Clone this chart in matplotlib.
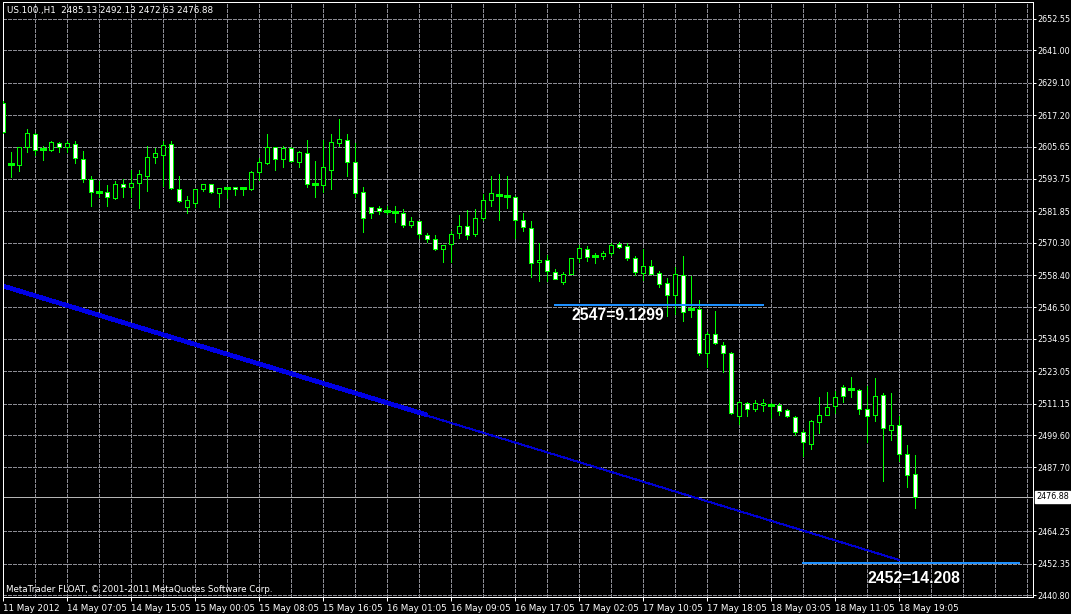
import matplotlib
matplotlib.use("Agg")
import matplotlib.pyplot as plt
from matplotlib.patches import Rectangle
from matplotlib.transforms import blended_transform_factory

# hourly bars of US.100 (H1), 11 May 2012 .. 18 May 2012 19:05
opens = [2621.67, 2598.88, 2598.88, 2605.49, 2610.27, 2604.76, 2604.39, 2606.96, 2605.49, 2606.60,
         2601.08, 2593.73, 2588.95, 2588.95, 2586.75, 2591.89, 2590.79, 2592.26, 2594.83, 2601.82,
         2602.55, 2606.60, 2590.05, 2583.44, 2584.91, 2590.05, 2591.89, 2588.58, 2590.25, 2590.79,
         2590.42, 2590.05, 2596.30, 2599.61, 2605.49, 2601.08, 2605.13, 2599.98, 2603.29, 2591.89,
         2591.52, 2597.04, 2606.96, 2608.07, 2599.98, 2588.95, 2583.44, 2583.07, 2581.97, 2581.60,
         2581.23, 2576.82, 2578.29, 2573.14, 2571.67, 2568.00, 2569.84, 2573.88, 2576.45, 2573.51,
         2579.39, 2586.01, 2587.85, 2587.48, 2587.11, 2578.66, 2575.72, 2563.22, 2563.95, 2559.54,
         2555.87, 2558.81, 2564.69, 2568.00, 2565.42, 2565.42, 2566.53, 2569.84, 2569.10, 2564.69,
         2559.18, 2561.75, 2559.18, 2555.50, 2551.09, 2558.44, 2545.94, 2545.94, 2529.77, 2536.75,
         2532.71, 2529.77, 2506.61, 2511.39, 2509.18, 2510.65, 2510.65, 2510.65, 2508.81, 2506.24,
         2500.73, 2496.32, 2504.40, 2506.98, 2510.28, 2517.27, 2516.53, 2516.17, 2509.18, 2506.98,
         2514.33, 2501.46, 2503.30, 2492.64, 2485.13]
highs = [2622.40, 2603.65, 2605.60, 2612.11, 2610.64, 2605.86, 2607.70, 2607.33, 2607.70, 2607.70,
         2604.02, 2594.83, 2592.99, 2591.52, 2592.99, 2593.73, 2597.04, 2597.04, 2605.86, 2605.13,
         2607.70, 2607.70, 2594.83, 2587.48, 2590.20, 2592.00, 2592.00, 2590.50, 2590.60, 2590.90,
         2590.50, 2596.67, 2601.45, 2610.27, 2605.60, 2605.86, 2605.49, 2604.02, 2608.07, 2600.35,
         2608.07, 2610.27, 2615.79, 2610.27, 2606.96, 2590.79, 2583.50, 2583.80, 2583.80, 2583.80,
         2582.70, 2579.76, 2578.40, 2573.88, 2573.14, 2569.60, 2574.61, 2580.50, 2582.33, 2582.70,
         2588.22, 2594.83, 2595.57, 2594.83, 2587.48, 2581.23, 2578.29, 2570.20, 2565.79, 2560.65,
         2559.54, 2564.80, 2569.47, 2569.10, 2566.53, 2567.26, 2570.20, 2570.57, 2570.20, 2565.42,
         2568.00, 2563.95, 2559.91, 2557.34, 2561.38, 2565.42, 2558.07, 2549.25, 2537.49, 2545.21,
         2533.81, 2530.13, 2512.12, 2511.75, 2512.49, 2512.86, 2511.39, 2511.39, 2509.18, 2506.61,
         2501.46, 2505.14, 2513.59, 2515.43, 2515.80, 2518.00, 2520.94, 2516.53, 2517.64, 2520.58,
         2515.06, 2515.06, 2506.61, 2495.95, 2492.13]
lows = [2610.64, 2594.46, 2596.67, 2603.65, 2602.55, 2600.71, 2604.02, 2603.65, 2603.65, 2599.61,
        2592.63, 2583.80, 2587.11, 2583.80, 2586.38, 2587.11, 2587.11, 2583.07, 2589.32, 2599.61,
        2591.16, 2590.05, 2585.27, 2581.23, 2583.44, 2589.32, 2588.58, 2583.44, 2586.75, 2587.85,
        2587.85, 2589.69, 2593.36, 2599.24, 2597.04, 2598.14, 2599.98, 2598.14, 2590.79, 2587.11,
        2588.95, 2590.05, 2605.86, 2594.83, 2587.11, 2574.25, 2579.39, 2580.86, 2580.86, 2577.92,
        2576.08, 2576.08, 2572.04, 2570.57, 2567.63, 2563.22, 2563.22, 2572.04, 2571.67, 2572.78,
        2578.66, 2583.80, 2578.66, 2583.07, 2572.04, 2574.61, 2557.70, 2556.23, 2556.23, 2556.90,
        2555.13, 2558.70, 2563.22, 2563.59, 2562.85, 2564.32, 2565.79, 2568.37, 2563.95, 2558.44,
        2556.60, 2558.70, 2554.03, 2543.37, 2544.10, 2541.53, 2543.00, 2529.03, 2524.62, 2533.08,
        2522.78, 2507.34, 2503.67, 2506.61, 2508.45, 2508.45, 2505.87, 2506.98, 2506.24, 2499.62,
        2491.90, 2494.48, 2500.36, 2506.90, 2507.71, 2511.75, 2513.59, 2507.34, 2497.05, 2504.77,
        2482.71, 2497.79, 2490.07, 2480.51, 2472.63]
closes = [2611.01, 2599.24, 2605.49, 2610.64, 2604.39, 2604.60, 2607.33, 2605.49, 2606.96, 2601.45,
          2593.73, 2588.95, 2589.10, 2587.11, 2591.89, 2590.79, 2592.26, 2595.57, 2601.82, 2603.29,
          2606.23, 2590.42, 2585.64, 2586.01, 2590.05, 2591.89, 2588.95, 2590.42, 2590.42, 2590.05,
          2590.25, 2596.30, 2599.98, 2605.49, 2601.08, 2605.13, 2600.35, 2603.65, 2591.89, 2591.95,
          2598.14, 2607.33, 2608.43, 2599.98, 2588.58, 2579.39, 2581.23, 2581.97, 2582.00, 2581.65,
          2576.82, 2578.29, 2573.51, 2571.67, 2568.00, 2569.47, 2573.51, 2576.45, 2573.14, 2579.39,
          2586.01, 2588.58, 2587.90, 2587.50, 2578.66, 2576.08, 2562.85, 2563.95, 2559.91, 2556.97,
          2558.81, 2564.69, 2568.37, 2565.06, 2565.45, 2566.53, 2569.47, 2568.73, 2564.69, 2559.54,
          2561.75, 2558.81, 2555.13, 2551.09, 2558.81, 2544.84, 2546.00, 2529.77, 2536.75, 2533.44,
          2529.77, 2507.71, 2511.75, 2509.18, 2511.39, 2511.39, 2510.60, 2508.45, 2506.61, 2500.73,
          2497.05, 2504.77, 2506.98, 2509.92, 2513.59, 2513.96, 2516.50, 2509.18, 2506.61, 2513.96,
          2502.20, 2503.30, 2492.64, 2484.92, 2476.88]

price_ticks = [2652.55, 2641.00, 2629.10, 2617.20, 2605.65, 2593.75, 2581.85, 2570.30, 2558.40,
               2546.50, 2534.95, 2523.05, 2511.15, 2499.60, 2487.70, 2464.25, 2452.35, 2440.80]
time_labels = ["11 May 2012", "14 May 07:05", "14 May 15:05", "15 May 00:05", "15 May 08:05",
               "15 May 16:05", "16 May 01:05", "16 May 09:05", "16 May 17:05", "17 May 02:05",
               "17 May 10:05", "17 May 18:05", "18 May 03:05", "18 May 11:05", "18 May 19:05"]
last_price = 2476.88

# trend line (bar index, price) and horizontal levels
trend_start = (0, 2554.4)
trend_end = (112, 2453.7)
trend_thick_end = (53, 2507.0)
levels = [2547.4, 2452.5]
level_spans = [(69, 95), (100, 127)]
level_texts = ["2547=9.1299", "2452=14.208"]

GREEN = "#00ff00"
GRID = "#8c8c94"
px = 100 / 72.0

fig = plt.figure(figsize=(10.71, 6.14), dpi=100, facecolor="black")
ax = fig.add_axes([2.5 / 1071, 1 - 597 / 614, 1030 / 1071, 595 / 614])
ax.set_facecolor("black")
ax.set_xlim(-0.0625, 128.69)
ax.set_ylim(2440.07, 2658.79)

# grid
for p in price_ticks:
    ax.axhline(p, color=GRID, lw=1 / px, ls=(0, (3, 2)), antialiased=False, zorder=1)
for k in range(4, 129, 4):
    ax.axvline(k, color=GRID, lw=1 / px, ls=(0, (3, 2)), antialiased=False, zorder=1)

# current price line
ax.axhline(last_price, color="#b4b4b4", lw=1 / px, antialiased=False, zorder=1.5)

# trend line
ax.plot([trend_start[0], trend_end[0]], [trend_start[1], trend_end[1]],
        color="#0000d0", lw=1 / px, antialiased=False, zorder=2)
ax.plot([trend_start[0], trend_thick_end[0]], [trend_start[1], trend_thick_end[1]],
        color="#0000e6", lw=3.6 / px, antialiased=False, solid_capstyle="butt", zorder=2)

# candles
n = len(opens)
ax.vlines(range(n), lows, highs, color=GREEN, lw=1 / px, antialiased=False, zorder=3)
for i in range(n):
    o, c = opens[i], closes[i]
    lo, hi = min(o, c), max(o, c)
    if hi - lo < 0.6:
        ax.plot([i - 0.28, i + 0.28], [c, c], color=GREEN, lw=1.2 / px,
                antialiased=False, zorder=4)
        continue
    face = "white" if c < o else "black"
    ax.add_patch(Rectangle((i - 0.25, lo), 0.5, hi - lo, facecolor=face, edgecolor=GREEN,
                           lw=1 / px, antialiased=False, zorder=4))

# horizontal levels with labels
for lev, (a, b) in zip(levels, level_spans):
    ax.plot([a, b], [lev, lev], color="#1e90ff", lw=2 / px, antialiased=False, zorder=5)
ax.text(71.1, 2543.4, level_texts[0], color="white", fontsize=11.3, fontweight="bold",
        family="Liberation Sans", va="center", ha="left", zorder=6)
ax.text(108.1, 2446.7, level_texts[1], color="white", fontsize=11.3, fontweight="bold",
        family="Liberation Sans", va="center", ha="left", zorder=6)

# spines
for s in ax.spines.values():
    s.set_color("white")
    s.set_linewidth(1 / px)

# axes ticks
ax.yaxis.tick_right()
ax.set_yticks(price_ticks)
ax.set_yticklabels([f"{p:.2f}" for p in price_ticks])
ax.set_xticks(range(0, 8 * len(time_labels), 8))
ax.set_xticklabels(time_labels)
ax.tick_params(axis="x", colors="white", labelsize=6.3, length=3, width=1 / px, pad=2)
ax.tick_params(axis="y", colors="white", labelsize=5.8, length=2.2, width=1 / px, pad=1.2)
for lab in ax.get_xticklabels():
    lab.set_ha("left")

# current price box on the scale
tr = blended_transform_factory(ax.transAxes, ax.transData)
ax.text(1.0035, last_price, f"{last_price:.2f}", transform=tr, color="black", fontsize=5.8,
        va="center", ha="left", zorder=10, clip_on=False,
        bbox=dict(boxstyle="square,pad=0.15", facecolor="white", edgecolor="white"))

# header and footer
fig.text(7 / 1071, 1 - 11 / 614, "US.100.,H1  2485.13 2492.13 2472.63 2476.88", color="white",
         fontsize=6.3, va="center", ha="left")
fig.text(6 / 1071, 1 - 589 / 614, "MetaTrader FLOAT, \u00a9 2001-2011 MetaQuotes Software Corp.",
         color="white", fontsize=6.3, va="center", ha="left")

fig.savefig("out.png", dpi=100, facecolor="black")
